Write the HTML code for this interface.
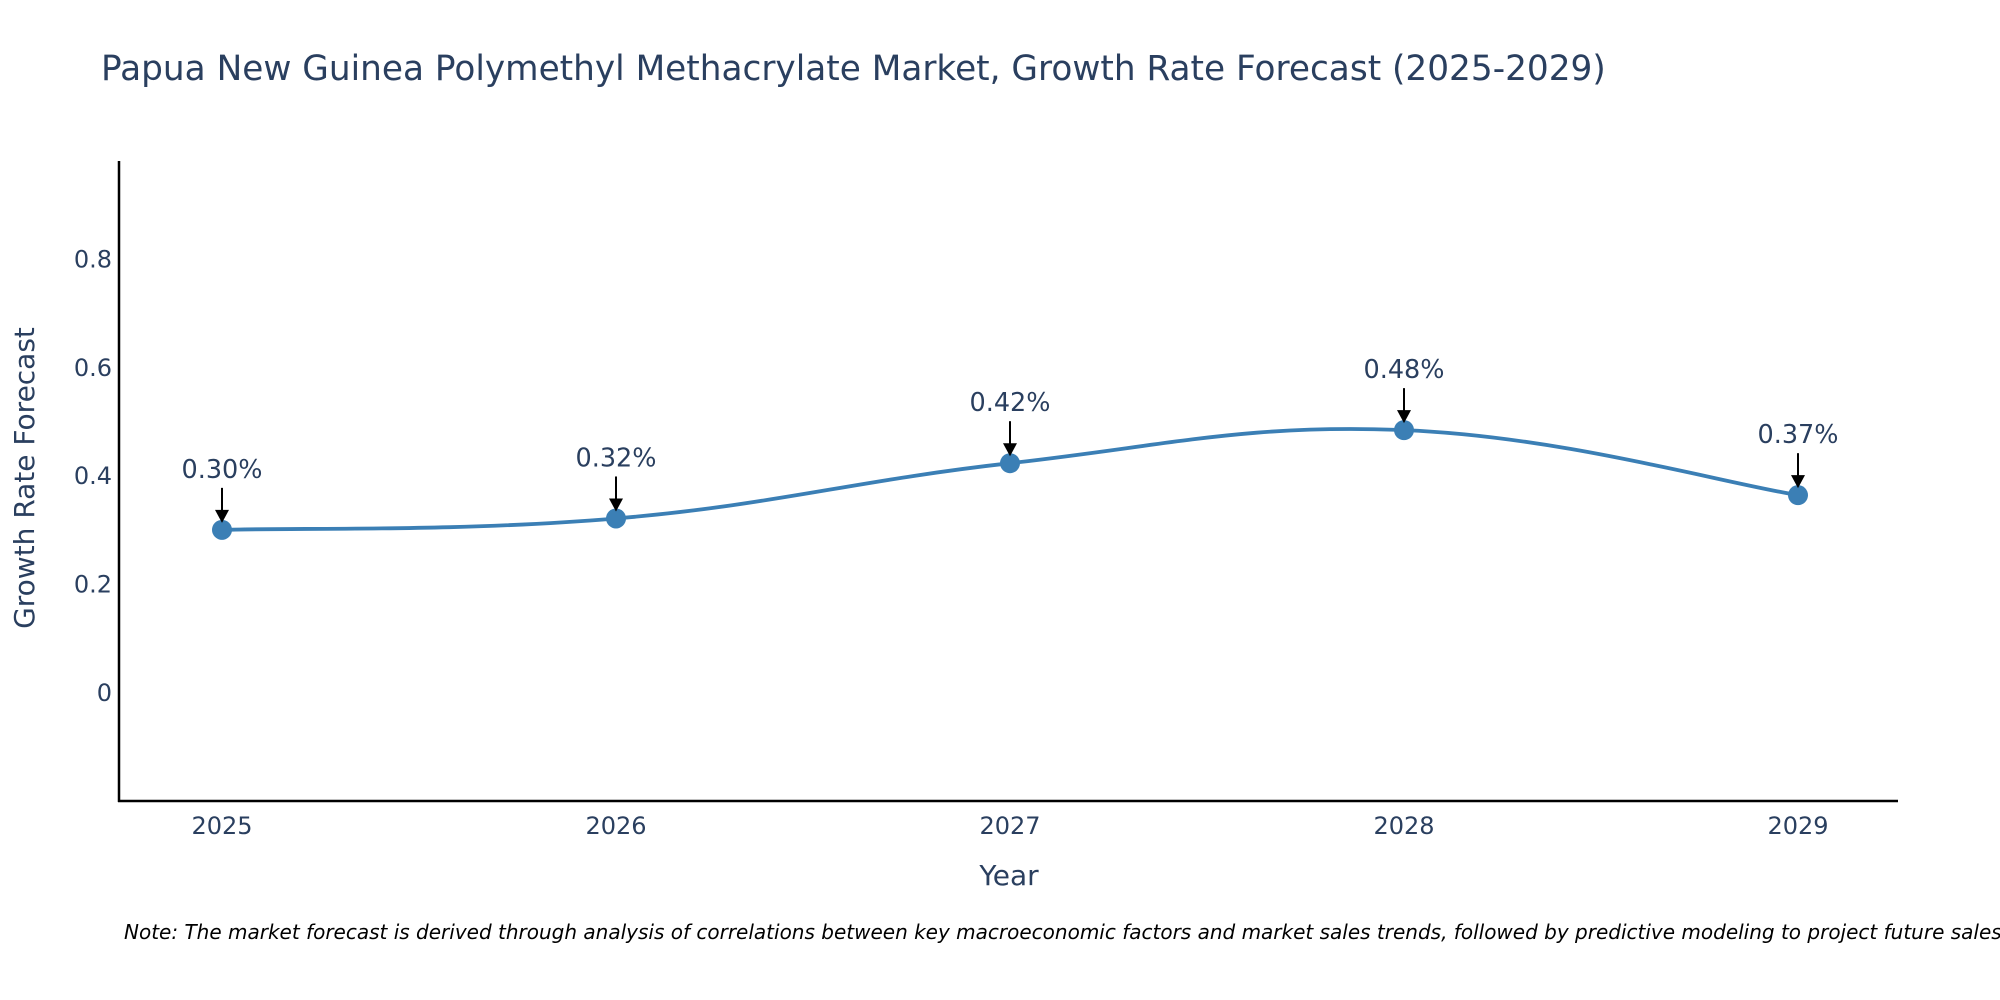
<!DOCTYPE html>
<html><head><meta charset="utf-8">
<style>
html,body{margin:0;padding:0;background:#fff;}
svg{display:block;font-family:"DejaVu Sans","Liberation Sans",sans-serif;}
</style></head>
<body>
<svg id="chart" width="2000" height="1000" viewBox="0 0 2000 1000">
<text x="101" y="80" font-size="34.3" fill="#2a3f5f">Papua New Guinea Polymethyl Methacrylate Market, Growth Rate Forecast (2025-2029)</text>
<g id="yticks"></g>
<g id="xticks"></g>
<line x1="119" y1="161" x2="119" y2="802" stroke="#000" stroke-width="2.5"/>
<line x1="118" y1="801" x2="1898" y2="801" stroke="#000" stroke-width="2.5"/>
<path id="series-line" fill="none" stroke="#3b7fb5" stroke-width="3.8"/>
<g id="points"></g>
<g id="annots"></g>
<text x="1009" y="885" font-size="28" fill="#2a3f5f" text-anchor="middle">Year</text>
<text transform="translate(34,478) rotate(-90)" font-size="28" fill="#2a3f5f" text-anchor="middle">Growth Rate Forecast</text>
<text x="124" y="939" font-size="20" font-style="italic" fill="#000">Note: The market forecast is derived through analysis of correlations between key macroeconomic factors and market sales trends, followed by predictive modeling to project future sales.</text>
</svg>
<script>
const years = [2025, 2026, 2027, 2028, 2029];
const values = [0.301, 0.322, 0.424, 0.485, 0.365];
const labels = ["0.30%", "0.32%", "0.42%", "0.48%", "0.37%"];
const yTickValues = [0, 0.2, 0.4, 0.6, 0.8];
const yTickLabels = ["0", "0.2", "0.4", "0.6", "0.8"];

const NS = "http://www.w3.org/2000/svg";
function xs(v){ return 222 + (v - 2025) * 394; }
function ys(v){ return 693 - v * 542; }
function mk(tag, attrs, parent){
  const e = document.createElementNS(NS, tag);
  for (const k in attrs) e.setAttribute(k, attrs[k]);
  parent.appendChild(e); return e;
}
const yt = document.getElementById('yticks');
yTickValues.forEach((v,i)=>{
  const t = mk('text',{x:112,y:ys(v)+8,'font-size':24,fill:'#2a3f5f','text-anchor':'end'},yt);
  t.textContent = yTickLabels[i];
  
  
});
const xt = document.getElementById('xticks');
years.forEach(y=>{
  const t = mk('text',{x:xs(y),y:834,'font-size':24,fill:'#2a3f5f','text-anchor':'middle'},xt);
  t.textContent = String(y);
  
  
});
const pts = years.map((y,i)=>[xs(y), ys(values[i])]);
let d = `M${pts[0][0]},${pts[0][1]}`;
const s = 0.2;
for (let i=0;i<pts.length-1;i++){
  const p0 = pts[Math.max(0,i-1)], p1 = pts[i], p2 = pts[i+1], p3 = pts[Math.min(pts.length-1,i+2)];
  const c1 = [p1[0]+(p2[0]-p0[0])*s, p1[1]+(p2[1]-p0[1])*s];
  const c2 = [p2[0]-(p3[0]-p1[0])*s, p2[1]-(p3[1]-p1[1])*s];
  d += ` C${c1[0]},${c1[1]} ${c2[0]},${c2[1]} ${p2[0]},${p2[1]}`;
}
document.getElementById('series-line').setAttribute('d', d);
const pg = document.getElementById('points');
const ag = document.getElementById('annots');
pts.forEach((p,i)=>{
  const c = mk('circle',{cx:p[0],cy:p[1],r:10,fill:'#3b7fb5'},pg);
  
  
  const l = mk('line',{x1:p[0],y1:p[1]-42,x2:p[0],y2:p[1]-18,stroke:'#000','stroke-width':2},ag);
  
  
  const a = mk('polygon',{points:`${p[0]-7},${p[1]-20} ${p[0]+7},${p[1]-20} ${p[0]},${p[1]-7}`,fill:'#000'},ag);
  
  
  const t = mk('text',{x:p[0],y:p[1]-52,'font-size':25.5,fill:'#2a3f5f','text-anchor':'middle'},ag);
  t.textContent = labels[i];
  
  
});
</script>
</body></html>
